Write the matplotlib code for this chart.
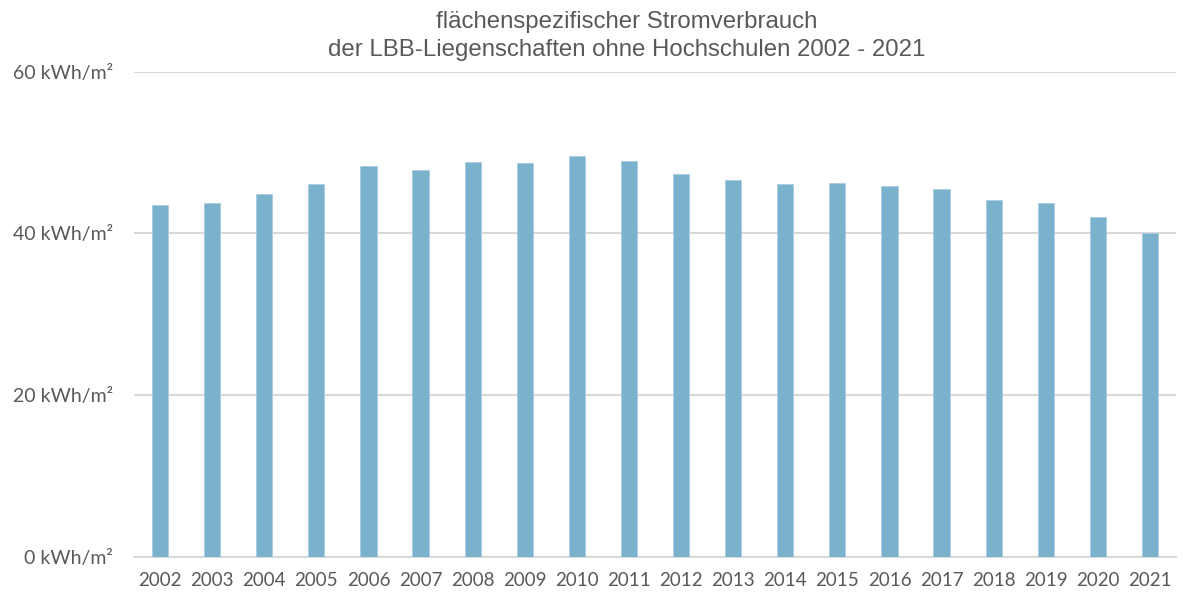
import matplotlib
matplotlib.use("Agg")
import matplotlib.pyplot as plt
import numpy as np

years = [str(y) for y in range(2002, 2022)]
values = [43.5, 43.7, 44.8, 46.1, 48.3, 47.8, 48.8, 48.7, 49.6, 49.0,
          47.3, 46.6, 46.1, 46.2, 45.9, 45.5, 44.1, 43.8, 42.0, 40.1]
yticks = [0, 20, 40, 60]
ytick_labels = [f"{v} kWh/m\u00b2" for v in yticks]
title = "flächenspezifischer Stromverbrauch\nder LBB-Liegenschaften ohne Hochschulen 2002 - 2021"

fig = plt.figure(figsize=(11.83, 5.95), dpi=100)
ax = fig.add_axes([134/1183, 1-557/595, (1176-134)/1183, (557-71.5)/595])

x = np.arange(len(years))
ax.bar(x, values, width=0.31, color="#7AB1CD", edgecolor="#A9CCE0", linewidth=0.6, zorder=3)

ax.set_xlim(-0.5, len(years)-0.5)
ax.set_ylim(0, 60)
ax.set_yticks(yticks)
ax.set_yticklabels(ytick_labels)
ax.set_xticks(x)
ax.set_xticklabels(years)
for lab in ax.get_xticklabels():
    lab.set_fontfamily("Lato")
    lab.set_fontsize(13.5)
    lab.set_color("#595959")
for lab in ax.get_yticklabels():
    lab.set_fontfamily("Lato")
    lab.set_fontsize(14)
    lab.set_color("#595959")
ax.tick_params(axis="y", length=0, pad=15)
ax.tick_params(axis="x", length=0, pad=11)
ax.grid(axis="y", color="#D9D9D9", linewidth=1.5, zorder=0)
for s in ax.spines.values():
    s.set_visible(False)
ax.axhline(0, color="#D9D9D9", linewidth=1.5, zorder=2, clip_on=False)

fig.text(627/1183, 1-36/595, title, ha="center", va="center", fontsize=17.3,
         family="Liberation Sans", color="#595959", linespacing=1.4)

fig.savefig("out.png", dpi=100)
